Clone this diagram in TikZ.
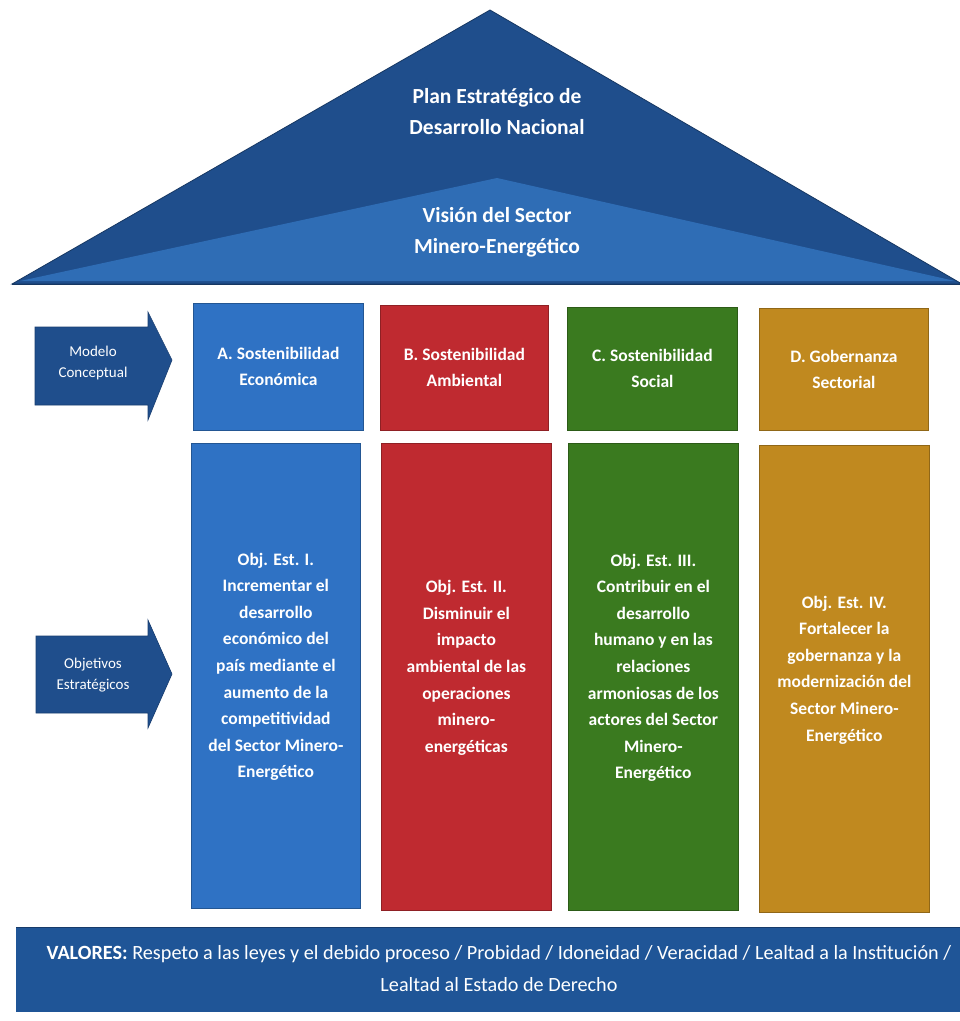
\documentclass[tikz,border=0pt]{standalone}
\usepackage{fontspec}
\setmainfont{Carlito}
\definecolor{roofdark}{HTML}{1F4E8C}
\definecolor{rooflight}{HTML}{2F6DB5}
\definecolor{cblue}{HTML}{2F72C4}
\definecolor{cred}{HTML}{BF2A30}
\definecolor{cgreen}{HTML}{3A7A1F}
\definecolor{cgold}{HTML}{C0891F}
\definecolor{band}{HTML}{1F5597}
\tikzset{
  x=1pt,y=-1pt,
  col/.style={anchor=north west,inner sep=0pt,draw=#1!75!black,fill=#1,line width=0.8pt,text=white,align=center},
  head/.style={font=\fontsize{17.5}{26}\selectfont\bfseries},
  obj/.style={text=white,align=center,font=\fontsize{17.5}{26.6}\selectfont\bfseries},
  lbl/.style={text=white,align=center,font=\fontsize{15}{21}\selectfont},
  arrowshape/.style={fill=roofdark,draw=roofdark!80!black,line width=0.6pt},
}
\begin{document}
\begin{tikzpicture}
\useasboundingbox (0,0) rectangle (960,1021);
\fill[white] (0,0) rectangle (960,1021);
% roof
\filldraw[fill=roofdark,draw=roofdark!70!black,line width=0.8pt] (490,10) -- (962,284) -- (12,284) -- cycle;
\fill[rooflight] (497,178) -- (955,281) -- (20,281) -- cycle;
\draw[roofdark!70!black,line width=1pt] (12,284) -- (962,284);
\node[text=white,align=center,font=\fontsize{21.5}{31}\selectfont\bfseries] (plan) at (497,112) {Plan Estratégico de\\Desarrollo Nacional};
\node[text=white,align=center,font=\fontsize{21.5}{31}\selectfont\bfseries] (vision) at (497,232) {Visión del Sector\\Minero-Energético};
% arrows
\filldraw[arrowshape] (35,327) -- (148,327) -- (148,312) -- (172,360) -- (148,420) -- (148,405) -- (35,405) -- cycle;
\node[lbl] (mc) at (93,363) {Modelo\\Conceptual};
\filldraw[arrowshape] (36,636) -- (148,636) -- (148,620) -- (172,674) -- (148,728) -- (148,713) -- (36,713) -- cycle;
\node[lbl] (oe) at (93,675) {Objetivos\\Estratégicos};
% top boxes
\node[col=cblue,head,minimum width=170pt,minimum height=127pt] (A) at (193,303) {A. Sostenibilidad\\Económica};
\node[col=cred,head,minimum width=168pt,minimum height=125pt] (B) at (380,305) {B. Sostenibilidad\\Ambiental};
\node[col=cgreen,head,minimum width=170pt,minimum height=123pt] (C) at (567,307) {C. Sostenibilidad\\Social};
\node[col=cgold,head,minimum width=169pt,minimum height=122pt] (D) at (759,308) {D. Gobernanza\\Sectorial};
% objective boxes
\node[col=cblue,minimum width=169pt,minimum height=465pt] (O1) at (191,443) {};
\node[col=cred,minimum width=170pt,minimum height=467pt] (O2) at (381,443) {};
\node[col=cgreen,minimum width=170pt,minimum height=467pt] (O3) at (568,443) {};
\node[col=cgold,minimum width=170pt,minimum height=467pt] (O4) at (759,445) {};
\node[obj] (t1) at ([yshift=9pt]O1.center) {Obj. Est. I.\\Incrementar el\\desarrollo\\económico del\\país mediante el\\aumento de la\\competitividad\\del Sector Minero-\\Energético};
\node[obj] (t2) at ([yshift=9pt]O2.center) {Obj. Est. II.\\Disminuir el\\impacto\\ambiental de las\\operaciones\\minero-\\energéticas};
\node[obj] (t3) at ([yshift=9pt]O3.center) {Obj. Est. III.\\Contribuir en el\\desarrollo\\humano y en las\\relaciones\\armoniosas de los\\actores del Sector\\Minero-\\Energético};
\node[obj] (t4) at ([yshift=9pt]O4.center) {Obj. Est. IV.\\Fortalecer la\\gobernanza y la\\modernización del\\Sector Minero-\\Energético};
% values band
\fill[band] (16,927) rectangle (962,1012);
\draw[band!70!black,line width=1pt] (16,927) -- (962,927);
\node[text=white,align=center,font=\fontsize{20.2}{32}\selectfont] (val) at (499,969) {\textbf{VALORES:} Respeto a las leyes y el debido proceso / Probidad / Idoneidad / Veracidad / Lealtad a la Institución /\\Lealtad al Estado de Derecho};
\end{tikzpicture}
\end{document}
